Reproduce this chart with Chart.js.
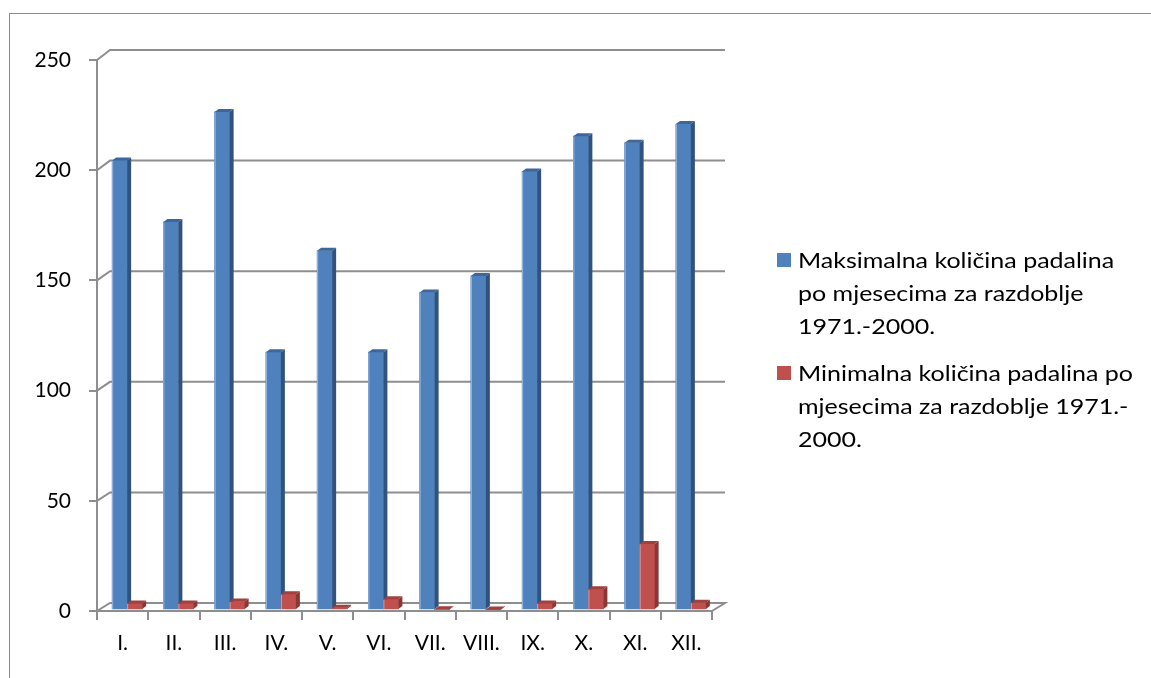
<!DOCTYPE html>
<html>
<head>
<meta charset="utf-8">
<script src="https://cdn.jsdelivr.net/npm/chart.js@4.4.0/dist/chart.umd.min.js"></script>
<style>
  html, body { margin: 0; padding: 0; background: #fff; overflow: hidden; }
  #wrap { position: relative; width: 1151px; height: 678px; overflow: hidden; }
  #frame { position: absolute; left: 9px; top: 13px; width: 1300px; height: 800px; border: 1px solid #898989; box-sizing: border-box; }
  #myChart { position: absolute; left: 0; top: 0; }
  #legend { position: absolute; left: 777px; top: 243px; font-family: Lato, sans-serif; font-size: 21px; line-height: 33px; color: #000; }
  #legend .item { position: relative; padding-left: 21px; margin-bottom: 14px; white-space: nowrap; }
  #legend .box { position: absolute; left: 0; top: 10px; width: 14px; height: 14px; }
  #legend .txt { display: inline-block; transform: scaleX(1.19); transform-origin: 0 0; }
</style>
</head>
<body>
<div id="wrap">
  <div id="frame"></div>
  <canvas id="myChart" width="1151" height="678"></canvas>
  <div id="legend"></div>
</div>
<script>
const months = ['I.', 'II.', 'III.', 'IV.', 'V.', 'VI.', 'VII.', 'VIII.', 'IX.', 'X.', 'XI.', 'XII.'];
const maxRain = [204, 176, 226, 117, 163, 117, 144, 151.5, 199, 215, 212, 220.5];
const minRain = [3, 3, 3.8, 7.1, 1, 4.9, 0.3, 0.2, 3, 9.4, 30, 3.3];
const yTicks = [0, 50, 100, 150, 200, 250];
const maxLabel = ['Maksimalna količina padalina', 'po mjesecima za razdoblje', '1971.-2000.'];
const minLabel = ['Minimalna količina padalina po', 'mjesecima za razdoblje 1971.-', '2000.'];

const colors = [
  { front: '#4F81BD', side: '#30527e', top: '#3e6698', edge: 'rgba(200,220,245,0.6)' },
  { front: '#C0504D', side: '#8a3634', top: '#a2403d', edge: 'rgba(245,205,205,0.6)' }
];
const gridColor = '#8e8e8e';
const DX = 4, DY = 3;

// back wall, floor and 3d faces of the columns
const wall3d = {
  id: 'wall3d',
  beforeDatasetsDraw(chart) {
    const { ctx, chartArea: { left, right, top, bottom }, scales: { y } } = chart;
    ctx.save();
    ctx.strokeStyle = gridColor;
    ctx.lineWidth = 2;
    yTicks.forEach(v => {
      const yf = y.getPixelForValue(v);
      const yb = yf - 8 - 2 * (bottom - yf) / (bottom - top);
      ctx.beginPath();
      ctx.moveTo(left, yf);
      ctx.lineTo(left + 13, yb);
      ctx.lineTo(right + 13, yb);
      if (v === 0) ctx.lineTo(right, yf);
      ctx.stroke();
    });
    ctx.restore();
    ctx.save();
    ctx.translate(4.5, -1);
  },
  afterDatasetsDraw(chart) {
    const { ctx } = chart;
    [0, 1].forEach(di => {
      const c = colors[di];
      chart.getDatasetMeta(di).data.forEach(el => {
        const { x, y, base, width } = el.getProps(['x', 'y', 'base', 'width'], true);
        const l = x - width / 2, r = x + width / 2;
        ctx.fillStyle = c.front;
        ctx.fillRect(l, y, width, base - y);
        ctx.fillStyle = c.side;
        ctx.beginPath();
        ctx.moveTo(r, y); ctx.lineTo(r + DX, y - DY); ctx.lineTo(r + DX, base - DY); ctx.lineTo(r, base);
        ctx.closePath(); ctx.fill();
        ctx.fillStyle = c.top;
        ctx.beginPath();
        ctx.moveTo(l, y); ctx.lineTo(l + DX, y - DY); ctx.lineTo(r + DX, y - DY); ctx.lineTo(r, y);
        ctx.closePath(); ctx.fill();
        if (base - y > 2) {
          ctx.strokeStyle = c.edge;
          ctx.lineWidth = 1;
          ctx.beginPath();
          ctx.moveTo(l + 0.5, base); ctx.lineTo(l + 0.5, y + 0.5);
          ctx.stroke();
        }
      });
    });
    ctx.restore();
  }
};

const ctx = document.getElementById('myChart').getContext('2d');
const chart = new Chart(ctx, {
  type: 'bar',
  data: {
    labels: months,
    datasets: [
      { label: maxLabel.join(' '), data: maxRain, backgroundColor: colors[0].front, barThickness: 15 },
      { label: minLabel.join(' '), data: minRain, backgroundColor: colors[1].front, barThickness: 15 }
    ]
  },
  options: {
    responsive: false,
    animation: false,
    layout: { padding: { top: 60, right: 439, left: 0, bottom: 0 } },
    plugins: { legend: { display: false }, tooltip: { enabled: false } },
    scales: {
      x: {
        grid: { display: true, drawOnChartArea: false, drawTicks: true, tickLength: 9, color: gridColor, lineWidth: 2 },
        border: { display: true, color: gridColor, width: 2 },
        ticks: { padding: 11, color: '#000', font: { family: 'Lato', size: 21 } },
        afterFit(scale) { scale.height = 67; }
      },
      y: {
        min: 0,
        max: 250,
        grid: { display: true, drawOnChartArea: false, drawTicks: true, tickLength: 8, color: gridColor, lineWidth: 2 },
        border: { display: true, color: gridColor, width: 2 },
        ticks: { stepSize: 50, padding: 18, color: '#000', font: { family: 'Lato', size: 21 } },
        afterFit(scale) { scale.width = 97; }
      }
    }
  },
  plugins: [wall3d]
});

// legend as html text
const legend = document.getElementById('legend');
[maxLabel, minLabel].forEach((lines, i) => {
  const item = document.createElement('div');
  item.className = 'item';
  const box = document.createElement('span');
  box.className = 'box';
  box.style.background = colors[i].front;
  item.appendChild(box);
  const txt = document.createElement('span');
  txt.className = 'txt';
  lines.forEach((t, k) => {
    if (k) txt.appendChild(document.createElement('br'));
    txt.appendChild(document.createTextNode(t));
  });
  item.appendChild(txt);
  legend.appendChild(item);
});
</script>
</body>
</html>
